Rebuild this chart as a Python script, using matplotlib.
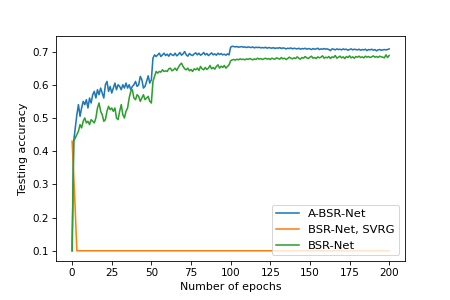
import matplotlib
matplotlib.use("Agg")
import matplotlib.pyplot as plt

# testing accuracy per epoch
a_bsr = [0.10, 0.43, 0.47, 0.51, 0.54, 0.505, 0.53, 0.55, 0.54, 0.555,
         0.53, 0.56, 0.545, 0.57, 0.58, 0.56, 0.585, 0.57, 0.59, 0.575,
         0.56, 0.60, 0.61, 0.58, 0.595, 0.575, 0.59, 0.605, 0.585, 0.60,
         0.595, 0.585, 0.60, 0.59, 0.605, 0.59, 0.60, 0.585, 0.595, 0.60,
         0.61, 0.595, 0.60, 0.625, 0.615, 0.59, 0.595, 0.61, 0.627, 0.605,
         0.615, 0.68, 0.69, 0.685, 0.69, 0.695, 0.685, 0.69, 0.695, 0.688,
         0.692, 0.686, 0.694, 0.69, 0.688, 0.695, 0.687, 0.691, 0.697, 0.689,
         0.693, 0.70, 0.69, 0.686, 0.694, 0.69, 0.688, 0.693, 0.696, 0.69,
         0.695, 0.689, 0.692, 0.697, 0.69, 0.694, 0.688, 0.692, 0.696, 0.69,
         0.693, 0.689, 0.695, 0.691, 0.694, 0.69, 0.692, 0.689, 0.693, 0.69,
         0.713, 0.716, 0.715, 0.714, 0.715, 0.713, 0.714, 0.715, 0.713, 0.714,
         0.712, 0.714, 0.713, 0.712, 0.714, 0.711, 0.713, 0.712, 0.713, 0.711,
         0.712, 0.711, 0.713, 0.71, 0.712, 0.711, 0.71, 0.712, 0.709, 0.711,
         0.71, 0.712, 0.709, 0.711, 0.71, 0.708, 0.71, 0.709, 0.711, 0.708,
         0.71, 0.709, 0.708, 0.71, 0.707, 0.709, 0.708, 0.71, 0.707, 0.709,
         0.708, 0.706, 0.709, 0.707, 0.708, 0.71, 0.706, 0.708, 0.707, 0.709,
         0.707, 0.708, 0.706, 0.703, 0.708, 0.707, 0.705, 0.708, 0.706, 0.707,
         0.705, 0.708, 0.706, 0.707, 0.704, 0.706, 0.708, 0.705, 0.707, 0.706,
         0.705, 0.707, 0.704, 0.706, 0.705, 0.707, 0.703, 0.706, 0.705, 0.707,
         0.704, 0.706, 0.702, 0.705, 0.706, 0.704, 0.705, 0.706, 0.705, 0.706,
         0.708]

bsr_svrg = [0.43, 0.33, 0.22] + [0.1] * 198

bsr = [0.10, 0.43, 0.44, 0.45, 0.46, 0.48, 0.47, 0.49, 0.50, 0.485,
       0.49, 0.48, 0.495, 0.49, 0.485, 0.50, 0.53, 0.545, 0.52, 0.51,
       0.49, 0.495, 0.52, 0.535, 0.525, 0.53, 0.52, 0.53, 0.50, 0.495,
       0.52, 0.54, 0.51, 0.50, 0.52, 0.53, 0.56, 0.58, 0.585, 0.56,
       0.555, 0.57, 0.565, 0.55, 0.56, 0.57, 0.555, 0.56, 0.565, 0.55,
       0.545, 0.61, 0.625, 0.64, 0.635, 0.64, 0.638, 0.645, 0.64, 0.642,
       0.64, 0.648, 0.65, 0.642, 0.645, 0.65, 0.643, 0.652, 0.66, 0.665,
       0.655, 0.648, 0.645, 0.65, 0.642, 0.646, 0.64, 0.648, 0.645, 0.65,
       0.643, 0.655, 0.648, 0.645, 0.652, 0.646, 0.65, 0.658, 0.648, 0.652,
       0.647, 0.655, 0.66, 0.65, 0.656, 0.652, 0.658, 0.65, 0.655, 0.66,
       0.672, 0.675, 0.676, 0.674, 0.677, 0.675, 0.678, 0.676, 0.677, 0.675,
       0.678, 0.676, 0.679, 0.677, 0.675, 0.678, 0.676, 0.68, 0.677, 0.679,
       0.676, 0.678, 0.68, 0.677, 0.679, 0.676, 0.68, 0.678, 0.677, 0.681,
       0.679, 0.677, 0.682, 0.678, 0.68, 0.676, 0.679, 0.683, 0.68, 0.678,
       0.681, 0.679, 0.684, 0.68, 0.677, 0.682, 0.68, 0.685, 0.681, 0.679,
       0.683, 0.686, 0.68, 0.682, 0.679, 0.684, 0.681, 0.683, 0.687, 0.68,
       0.683, 0.681, 0.685, 0.679, 0.684, 0.682, 0.688, 0.68, 0.683, 0.686,
       0.681, 0.684, 0.679, 0.685, 0.682, 0.687, 0.681, 0.684, 0.68, 0.685,
       0.683, 0.686, 0.682, 0.684, 0.681, 0.686, 0.683, 0.685, 0.682, 0.684,
       0.687, 0.683, 0.685, 0.682, 0.686, 0.684, 0.683, 0.681, 0.69, 0.682,
       0.688]

epochs = list(range(len(a_bsr)))

fig = plt.figure(figsize=(6, 4), dpi=75)
plt.subplots_adjust(bottom=0.13)
plt.plot(epochs, a_bsr, label="A-BSR-Net")
plt.plot(epochs, bsr_svrg, label="BSR-Net, SVRG")
plt.plot(epochs, bsr, label="BSR-Net")
plt.xticks([0, 25, 50, 75, 100, 125, 150, 175, 200])
plt.xlabel("Number of epochs", fontsize=10.5)
plt.ylabel("Testing accuracy", fontsize=10.5)
plt.legend(loc="lower right", fontsize=11)
plt.savefig("out.png")
